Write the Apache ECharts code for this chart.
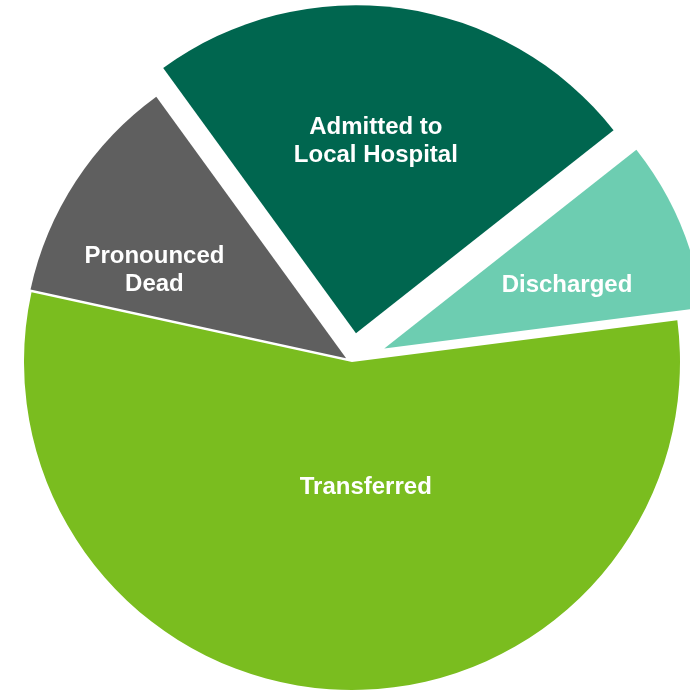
<!DOCTYPE html>
<html>
<head>
<meta charset="utf-8">
<script src="https://cdn.jsdelivr.net/npm/echarts@6/dist/echarts.min.js"></script>
<style>
html,body{margin:0;padding:0;background:#fff;}
#chart{width:690px;height:691px;}
</style>
</head>
<body>
<div id="chart"></div>
<script>
// ---- data ----
var categories = ['Admitted to Local Hospital', 'Discharged', 'Transferred', 'Pronounced Dead'];
var labelTexts = ['Admitted to\nLocal Hospital', 'Discharged', 'Transferred', 'Pronounced\nDead'];
var values = [24.4, 8.6, 55.5, 11.6];

// ---- styles ----
var colors = ['#00664F', '#6DCDB1', '#7ABD1F', '#5F5F5F'];
var explode = [29, 35, 0, 7];
var radii = [328, 321, 328, 323];
var labelShift = [[-3, -26], [32, 0], [21, -41], [-54, 2]];

var chart = echarts.init(document.getElementById('chart'), null, {renderer: 'canvas'});
var series = categories.map(function (name, k) {
  return {
    type: 'pie',
    center: [352, 362],
    radius: radii[k],
    startAngle: 126,
    clockwise: true,
    silent: true,
    animation: false,
    selectedMode: 'single',
    selectedOffset: explode[k],
    avoidLabelOverlap: false,
    labelLine: {show: false},
    labelLayout: function (p) {
      return p.dataIndex === k ? {dx: labelShift[k][0], dy: labelShift[k][1]} : {};
    },
    data: categories.map(function (n, i) {
      return {
        name: n,
        value: values[i],
        selected: i === k && explode[k] > 0,
        itemStyle: {color: i === k ? colors[i] : 'rgba(0,0,0,0)', borderWidth: 0},
        label: {
          show: i === k,
          position: 'inside',
          formatter: labelTexts[i],
          color: '#fff',
          fontFamily: 'Liberation Sans, Arial, sans-serif',
          fontWeight: 'bold',
          fontSize: 24,
          lineHeight: 28,
          align: 'center'
        }
      };
    })
  };
});

chart.setOption({
  backgroundColor: '#ffffff',
  animation: false,
  series: series
});
</script>
</body>
</html>
